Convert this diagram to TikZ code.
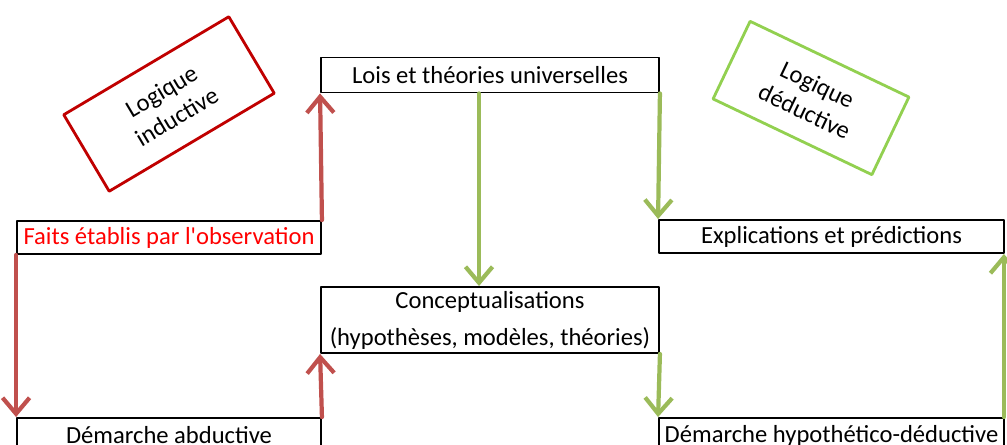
\documentclass[tikz,border=0pt]{standalone}
\usepackage{fontspec}
\setmainfont{Carlito}
\usetikzlibrary{arrows.meta}
\definecolor{rouge}{RGB}{192,80,77}
\definecolor{vert}{RGB}{155,187,89}
\definecolor{cadreR}{RGB}{192,0,0}
\definecolor{cadreV}{RGB}{146,208,80}
\begin{document}
\begin{tikzpicture}[x=0.02cm,y=-0.02cm,line cap=round,line join=round,
  font=\fontsize{14}{16}\selectfont,
  boite/.style={draw=black,line width=1.1pt,inner sep=0pt,align=center},
  logique/.style={draw,line width=1.6pt,inner sep=0pt,align=center},
  fleche/.style={line width=2.4pt,-{Straight Barb[length=3.2mm,width=5.4mm]}}]
	\useasboundingbox (0,0) rectangle (1007,445);
	\clip (0,0) rectangle (1007,445);
	% boites
	\node[boite,minimum width=6.76cm,minimum height=0.70cm] (lois) at (490,75) {Lois et théories universelles};
	\node[boite,minimum width=6.08cm,minimum height=0.66cm,text=red] (faits) at (169,237.5) {Faits établis par l\textquotesingle observation};
	\node[boite,minimum width=6.90cm,minimum height=0.66cm] (expl) at (831.5,236.5) {Explications et prédictions};
	\node[boite,minimum width=6.76cm,minimum height=1.32cm] (concept) at (490,320) {Conceptualisations\\[5pt](hypothèses, modèles, théories)};
	\node[boite,minimum width=6.08cm,minimum height=0.70cm] (abduct) at (169,435.5) {Démarche abductive};
	\node[boite,minimum width=6.90cm,minimum height=0.70cm] (hypo) at (831.5,435.5) {Démarche hypothético-déductive};
	% cadres obliques
	\node[logique,draw=cadreR,rotate=30.7,minimum width=3.84cm,minimum height=1.78cm] (induc) at (169,104) {Logique\\[1pt]inductive};
	\node[logique,draw=cadreV,rotate=-25.5,minimum width=3.52cm,minimum height=1.72cm] (deduc) at (811,98) {Logique\\[1pt]déductive};
	% fleches rouges
	\draw[fleche,rouge] (faits.north east) -- (lois.south west);
	\draw[fleche,rouge] (faits.south west) -- (abduct.north west);
	\draw[fleche,rouge] (abduct.north east) -- (concept.south west);
	% fleches vertes
	\draw[fleche,vert] ([xshift=-0.22cm]lois.south) -- ([xshift=-0.22cm]concept.north);
	\draw[fleche,vert] (lois.south east) -- (expl.north west);
	\draw[fleche,vert] (concept.south east) -- (hypo.north west);
	\draw[fleche,vert] ([xshift=-0.02cm]hypo.north east) -- ([xshift=-0.02cm]expl.south east);
\end{tikzpicture}
\end{document}
